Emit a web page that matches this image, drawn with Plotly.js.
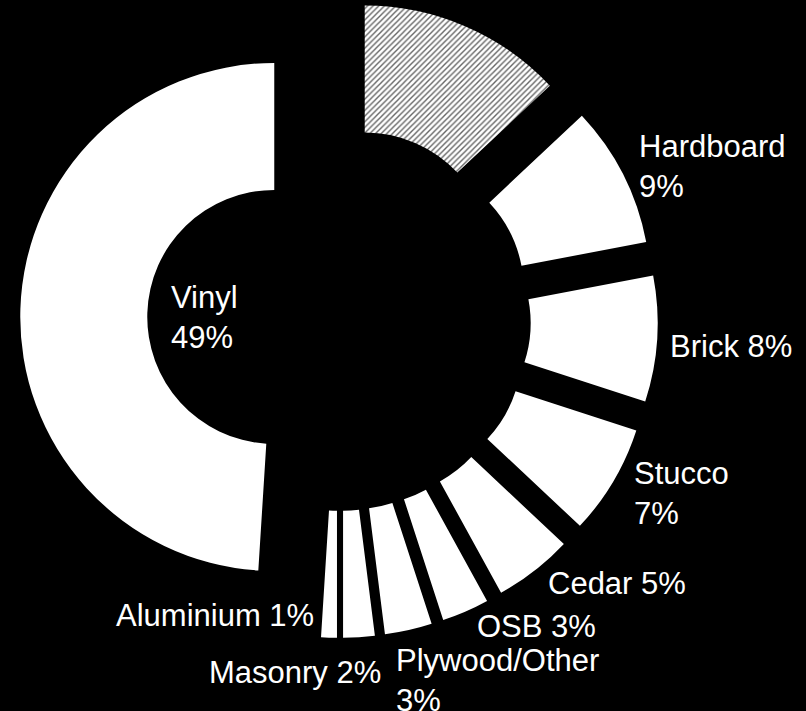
<!DOCTYPE html>
<html>
<head>
<meta charset="utf-8">
<script src="https://cdn.plot.ly/plotly-3.0.1.min.js"></script>
<style>
  html, body { margin: 0; padding: 0; background: #000; }
  #chart { width: 806px; height: 711px; }
</style>
</head>
<body>
<div id="chart"></div>
<script>
// ---- data ----
const labels = ["Fiber Cement", "Hardboard", "Brick", "Stucco", "Cedar", "OSB", "Plywood/Other", "Masonry", "Aluminium", "Vinyl"];
const values = [13, 9, 8, 7, 5, 3, 3, 2, 1, 49];
const showLabel = [false, true, true, true, true, true, true, true, true, true];
const twoLine = [false, true, false, true, false, false, true, false, false, true];

// ---- label placement (pixels: left, top) ----
const labelPos = [null, [637, 127], [668, 327], [632, 454], [546, 564], [475, 607], [394, 641], [207, 653], [114, 596], [169, 278]];

const W = 806, H = 711;
const colors = values.map(() => "#ffffff");

const trace = {
  type: "pie",
  labels: labels,
  values: values,
  sort: false,
  direction: "clockwise",
  rotation: 0,
  hole: 0.5,
  pull: values.map(() => 0.255),
  textinfo: "none",
  hoverinfo: "label+percent",
  marker: {
    colors: colors,
    line: { color: "#000", width: 0 },
    pattern: {
      shape: ["/", "", "", "", "", "", "", "", "", ""],
      fgcolor: "#666666",
      bgcolor: "#ffffff",
      size: 4,
      solidity: 0.35
    }
  },
  domain: { x: [0.0251, 0.8161], y: [0.1030, 0.9997] },
  showlegend: false
};

const annotations = [];
labels.forEach((lab, i) => {
  if (!showLabel[i]) return;
  const txt = lab + (twoLine[i] ? "<br>" : " ") + values[i] + "%";
  annotations.push({
    text: txt,
    xref: "paper", yref: "paper",
    x: labelPos[i][0] / W,
    y: 1 - labelPos[i][1] / H,
    xanchor: "left", yanchor: "top",
    align: "left",
    showarrow: false,
    font: { family: "Liberation Sans, Arial, sans-serif", size: 31, color: "#ffffff" }
  });
});

const layout = {
  width: W, height: H,
  margin: { l: 0, r: 0, t: 0, b: 0 },
  paper_bgcolor: "#000000",
  plot_bgcolor: "#000000",
  showlegend: false,
  annotations: annotations
};

Plotly.newPlot("chart", [trace], layout, { displayModeBar: false, staticPlot: true });
</script>
</body>
</html>
